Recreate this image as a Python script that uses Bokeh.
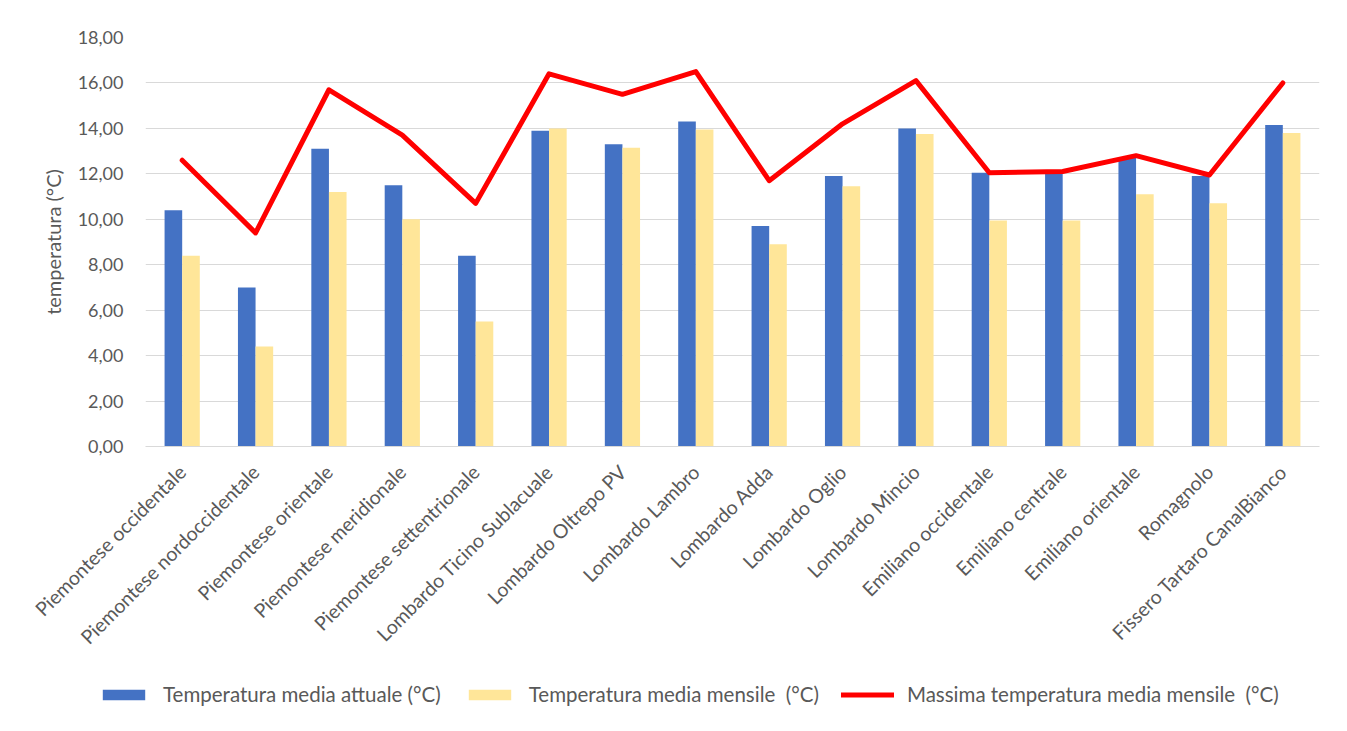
import math
from bokeh.plotting import figure
from bokeh.layouts import column, row
from bokeh.models import (ColumnDataSource, FactorRange, Range1d, SingleIntervalTicker,
                          CustomJSTickFormatter, Legend, LegendItem)
from bokeh.transform import dodge
from bokeh.embed import file_html
from bokeh.resources import INLINE

categories = ["Piemontese occidentale", "Piemontese nordoccidentale", "Piemontese orientale",
              "Piemontese meridionale", "Piemontese settentrionale", "Lombardo Ticino Sublacuale",
              "Lombardo Oltrepo PV", "Lombardo Lambro", "Lombardo Adda", "Lombardo Oglio",
              "Lombardo Mincio", "Emiliano occidentale", "Emiliano centrale", "Emiliano orientale",
              "Romagnolo", "Fissero Tartaro CanalBianco"]
attuale = [10.4, 7.0, 13.1, 11.5, 8.4, 13.9, 13.3, 14.3, 9.7, 11.9, 14.0, 12.05, 12.0, 12.7, 11.9, 14.15]
mensile = [8.4, 4.4, 11.2, 10.0, 5.5, 14.0, 13.15, 13.95, 8.9, 11.45, 13.75, 9.95, 9.95, 11.1, 10.7, 13.8]
massima = [12.6, 9.4, 15.7, 13.7, 10.7, 16.4, 15.5, 16.5, 11.7, 14.2, 16.1, 12.05, 12.1, 12.8, 11.95, 16.0]

series_names = ["Temperatura media attuale (°C)", "Temperatura media mensile  (°C)",
                "Massima temperatura media mensile  (°C)"]
y_label = "temperatura (°C)"

FONT = "Lato"
TXT = "#595959"
GRID = "#d9d9d9"
BLUE, YELLOW, RED = "#4472C4", "#FFE699", "#FF0000"

src = ColumnDataSource(dict(cat=categories, attuale=attuale, mensile=mensile, massima=massima))


def add_series(fig, visible=True):
    a = fig.vbar(x=dodge("cat", -0.12, range=fig.x_range), top="attuale", width=0.24, source=src,
                 fill_color=BLUE, line_color=None, visible=visible)
    b = fig.vbar(x=dodge("cat", 0.12, range=fig.x_range), top="mensile", width=0.24, source=src,
                 fill_color=YELLOW, line_color=None, visible=visible)
    c = fig.line(x="cat", y="massima", source=src, line_color=RED, line_width=5,
                 line_join="round", line_cap="round", visible=visible)
    return a, b, c


p = figure(x_range=FactorRange(*categories), y_range=Range1d(0, 18),
           width=1346, height=674, output_backend="svg", toolbar_location=None,
           min_border_left=145, min_border_right=27, min_border_top=37, min_border_bottom=228)
p.outline_line_color = None
add_series(p)

p.xgrid.grid_line_color = None
p.ygrid.grid_line_color = GRID
p.ygrid.grid_line_width = 1

p.yaxis.ticker = SingleIntervalTicker(interval=2)
p.yaxis.formatter = CustomJSTickFormatter(code="return tick.toFixed(2).replace('.', ',');")
p.yaxis.axis_line_color = None
p.yaxis.major_tick_line_color = None
p.yaxis.minor_tick_line_color = None
p.yaxis.major_tick_out = 0
p.yaxis.major_label_standoff = 18
p.yaxis.major_label_text_font = FONT
p.yaxis.major_label_text_font_size = "18px"
p.yaxis.major_label_text_color = TXT
p.yaxis.axis_label = y_label
p.yaxis.axis_label_text_font = FONT
p.yaxis.axis_label_text_font_size = "20px"
p.yaxis.axis_label_text_font_style = "normal"
p.yaxis.axis_label_text_color = TXT
p.yaxis.axis_label_standoff = 10

p.xaxis.axis_line_color = GRID
p.xaxis.axis_line_width = 1
p.xaxis.major_tick_line_color = None
p.xaxis.minor_tick_line_color = None
p.xaxis.major_tick_out = 0
p.xaxis.major_label_orientation = math.pi / 4
p.xaxis.major_label_standoff = 22
p.xaxis.major_label_text_font = FONT
p.xaxis.major_label_text_font_size = "19.5px"
p.xaxis.major_label_text_color = TXT

# legend strip below the chart: same series, hidden, only used for the legend swatches
p2 = figure(width=1346, height=40, output_backend="svg", toolbar_location=None,
            x_range=FactorRange(*categories), y_range=Range1d(0, 18),
            min_border_left=0, min_border_right=0, min_border_top=0, min_border_bottom=0)
p2.axis.visible = False
p2.grid.visible = False
p2.outline_line_color = None
l1, l2, l3 = add_series(p2, visible=False)

legend = Legend(items=[LegendItem(label=series_names[0], renderers=[l1]),
                       LegendItem(label=series_names[1], renderers=[l2]),
                       LegendItem(label=series_names[2], renderers=[l3])],
                orientation="horizontal", location=(97, 8),
                glyph_width=53, glyph_height=13, label_standoff=13, spacing=22,
                padding=5, margin=0, inactive_fill_alpha=0,
                label_text_font=FONT, label_text_font_size="20.5px", label_text_color=TXT,
                border_line_color=None, background_fill_alpha=0)
p2.add_layout(legend, "center")

layout = column(p, row(p2, spacing=0), spacing=0)
open("out.html", "w").write(file_html(layout, INLINE))
